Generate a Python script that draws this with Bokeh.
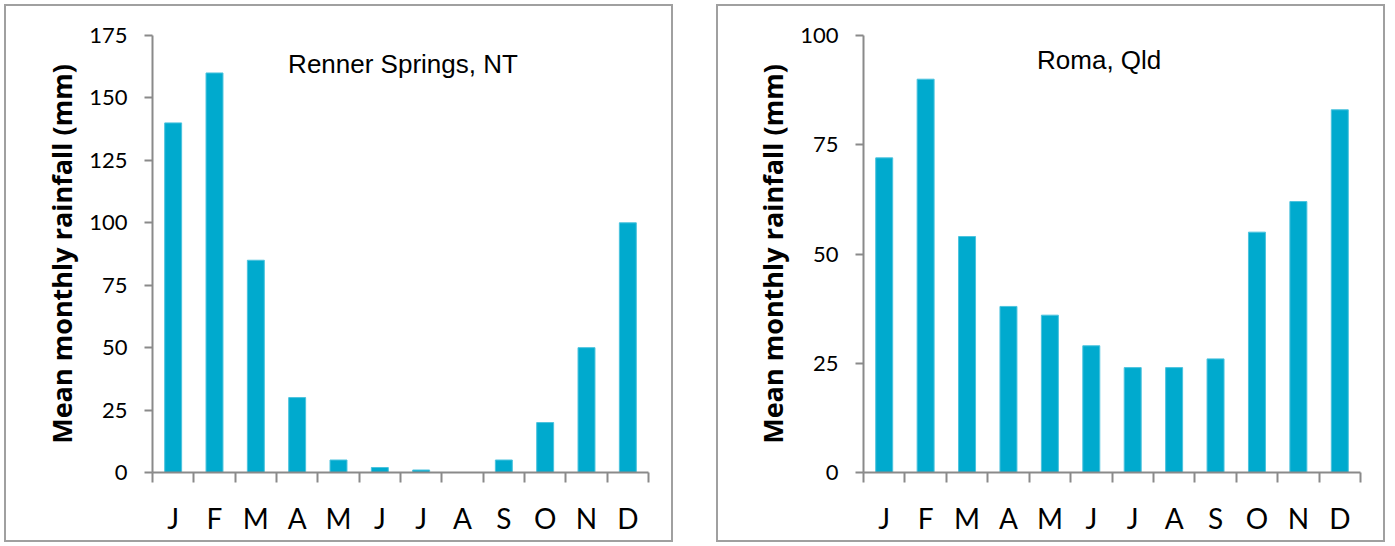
from bokeh.plotting import figure
from bokeh.layouts import row
from bokeh.models import Range1d, FixedTicker, Label
from bokeh.embed import file_html
from bokeh.resources import INLINE

# Mean monthly rainfall (mm) at two stations
months = ["J", "F", "M", "A", "M", "J", "J", "A", "S", "O", "N", "D"]
renner_rain = [140, 160, 85, 30, 5, 2, 1, 0, 5, 20, 50, 100]
roma_rain = [72, 90, 54, 38, 36, 29, 24, 24, 26, 55, 62, 83]
renner_ticks = [0, 25, 50, 75, 100, 125, 150, 175]
roma_ticks = [0, 25, 50, 75, 100]
stations = ["Renner Springs, NT", "Roma, Qld"]

BAR = "#00AACE"
AXIS = "#8A8A8A"
LABEL_FONT = "Lato"
YLABEL_FONT = "Open Sans"
TITLE_FONT = "Liberation Sans"


def rain_panel(name, rain, yticks, title_x, title_y, frame_left, frame_top, margin):
    p = figure(width=669, height=538, output_backend="svg", toolbar_location=None,
               x_range=Range1d(0, len(months)), y_range=Range1d(yticks[0], yticks[-1]),
               min_border_left=frame_left, min_border_right=27,
               min_border_top=frame_top, min_border_bottom=72)
    p.outline_line_color = None
    p.xgrid.visible = False
    p.ygrid.visible = False
    p.background_fill_color = "white"
    p.border_fill_color = "white"

    centers = [i + 0.5 for i in range(len(months))]
    p.vbar(x=centers, top=rain, width=0.41, bottom=0,
           fill_color=BAR, line_color="#4CC3DE", line_width=1)

    # month names sit between the boundary tick marks
    xa = p.xaxis[0]
    xa.ticker = FixedTicker(ticks=centers, minor_ticks=list(range(len(months) + 1)))
    xa.major_label_overrides = {c: m for c, m in zip(centers, months)}
    xa.major_tick_out = 0
    xa.major_tick_in = 0
    xa.minor_tick_out = 10
    xa.minor_tick_in = 0
    xa.minor_tick_line_color = AXIS
    xa.minor_tick_line_width = 2
    xa.axis_line_color = AXIS
    xa.axis_line_width = 2
    xa.major_label_standoff = 18
    xa.major_label_text_font = LABEL_FONT
    xa.major_label_text_font_size = "28px"
    xa.major_label_text_color = "black"

    ya = p.yaxis[0]
    ya.ticker = FixedTicker(ticks=yticks)
    ya.major_tick_out = 8
    ya.major_tick_in = 0
    ya.minor_tick_out = 0
    ya.minor_tick_in = 0
    ya.major_tick_line_color = AXIS
    ya.major_tick_line_width = 2
    ya.axis_line_color = AXIS
    ya.axis_line_width = 2
    ya.major_label_standoff = 17
    ya.major_label_text_font = LABEL_FONT
    ya.major_label_text_font_size = "22px"
    ya.major_label_text_color = "black"
    ya.axis_label = "Mean monthly rainfall (mm)"
    ya.axis_label_text_font = YLABEL_FONT
    ya.axis_label_text_font_style = "bold"
    ya.axis_label_text_font_size = "27px"
    ya.axis_label_text_color = "black"
    ya.axis_label_standoff = 6

    p.add_layout(Label(x=title_x, y=title_y, text=name, text_align="center",
                       text_baseline="alphabetic", text_font=TITLE_FONT,
                       text_font_size="26px", text_color="black"))
    p.margin = margin
    p.styles = {"border": "2px solid #A0A0A0"}
    return p


p1 = rain_panel(stations[0], renner_rain, renner_ticks, 6.06, 163.4, 146, 28, (4, 0, 0, 4))
p2 = rain_panel(stations[1], roma_rain, roma_ticks, 5.69, 94.5, 145, 29, (4, 0, 0, 43))

layout = row(p1, p2)
open("out.html", "w").write(file_html(layout, INLINE))
